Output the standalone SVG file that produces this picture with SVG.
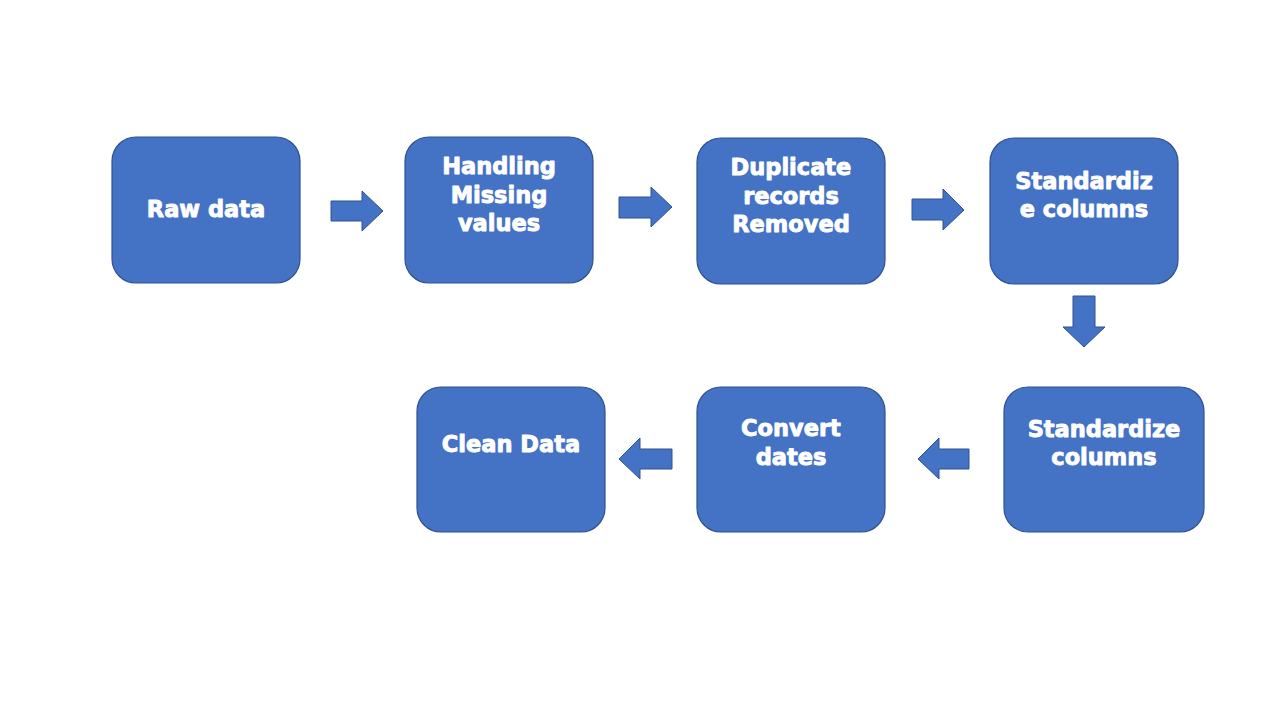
<svg xmlns="http://www.w3.org/2000/svg" width="1280" height="720" viewBox="0 0 1280 720">
<style>
.box{fill:#4472C4;stroke:#2F528F;stroke-width:1.2}
.arr{fill:#4472C4;stroke:#2F528F;stroke-width:1}
.lbl{font-family:"DejaVu Sans","Liberation Sans",sans-serif;font-weight:bold;font-size:22.5px;fill:#FFFFFF;stroke:#FFFFFF;stroke-width:0.9;stroke-linejoin:round;text-anchor:middle}
</style>
<rect width="1280" height="720" fill="#FFFFFF"/>
<g id="n1"><rect class="box" x="112" y="137" width="188" height="146" rx="24"/><text class="lbl" x="206" y="217">Raw data</text></g>
<g id="n2"><rect class="box" x="405" y="137" width="188" height="146" rx="24"/><text class="lbl" x="499" y="174">Handling</text><text class="lbl" x="499" y="203">Missing</text><text class="lbl" x="499" y="231">values</text></g>
<g id="n3"><rect class="box" x="697" y="138" width="188" height="146" rx="24"/><text class="lbl" x="791" y="175">Duplicate</text><text class="lbl" x="791" y="204">records</text><text class="lbl" x="791" y="232">Removed</text></g>
<g id="n4"><rect class="box" x="990" y="138" width="188" height="146" rx="24"/><text class="lbl" x="1084" y="189">Standardiz</text><text class="lbl" x="1084" y="217">e columns</text></g>
<g id="n5"><rect class="box" x="1004" y="387" width="200" height="145" rx="24"/><text class="lbl" x="1104" y="437">Standardize</text><text class="lbl" x="1104" y="465">columns</text></g>
<g id="n6"><rect class="box" x="697" y="387" width="188" height="145" rx="24"/><text class="lbl" x="791" y="436">Convert</text><text class="lbl" x="791" y="465">dates</text></g>
<g id="n7"><rect class="box" x="417" y="387" width="188" height="145" rx="24"/><text class="lbl" x="511" y="452">Clean Data</text></g>
<g id="connectors">
<polygon class="arr" points="331,201 362,201 362,191 383,211 362,231 362,221 331,221"/>
<polygon class="arr" points="619,197 651,197 651,187 672,207 651,227 651,218 619,218"/>
<polygon class="arr" points="912,199 943,199 943,189 964,210 943,230 943,220 912,220"/>
<polygon class="arr" points="1073,296 1095,296 1095,327 1105,327 1084,347 1063,327 1073,327"/>
<polygon class="arr" points="969,449 939,449 939,438 918,459 939,479 939,469 969,469"/>
<polygon class="arr" points="672,449 640,449 640,438 619,459 640,479 640,469 672,469"/>
</g>
</svg>
